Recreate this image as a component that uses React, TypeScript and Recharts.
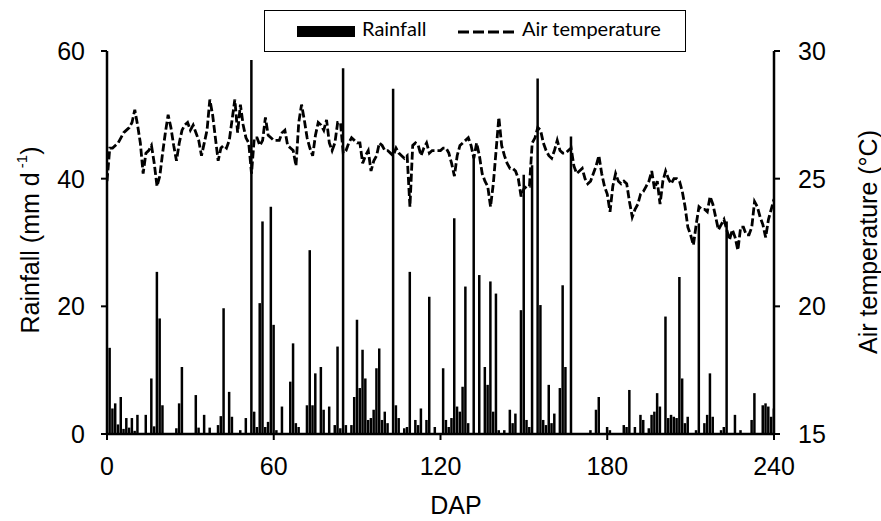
import { ComposedChart, Bar, Line, XAxis, YAxis } from "recharts";

// days after planting, 0..240
const DAP_TICKS = [0, 60, 120, 180, 240];
const RAIN_TICKS = [0, 20, 40, 60];
const TEMP_TICKS = [15, 20, 25, 30];

// daily rainfall (mm d-1), one value per DAP
const RAINFALL = [
  0, 13.5, 4.0, 4.8, 1.5, 5.8, 0.8, 2.5, 1.0, 2.5,
  0.5, 3.0, 0, 0, 3.0, 0, 8.7, 1.2, 25.4, 18.1,
  4.5, 0, 0, 0, 0, 0.9, 4.8, 10.5, 0, 0,
  0, 0, 6.1, 1.0, 0, 3.0, 0, 1.0, 0, 0,
  1.4, 2.8, 19.7, 0, 6.6, 2.7, 0, 0, 0.6, 0,
  2.5, 0, 58.6, 3.5, 1.1, 20.5, 33.3, 1.1, 1.9, 35.6,
  17.1, 0.6, 0, 4.3, 0, 0, 8.2, 14.2, 1.7, 1.1,
  0, 0, 4.5, 28.8, 4.5, 9.5, 0, 10.5, 3.8, 0,
  4.3, 0, 1.4, 13.7, 0.9, 57.3, 1.4, 0, 1.4, 5.8,
  17.9, 7.2, 13.2, 8.7, 2.2, 2.5, 3.8, 10.3, 13.4, 2.2,
  3.5, 1.7, 0, 54.1, 4.5, 2.5, 0, 0.9, 1.1, 25.4,
  0, 2.2, 1.4, 4.0, 0, 2.2, 21.5, 0, 1.1, 0,
  0, 10.3, 2.2, 1.1, 2.5, 33.8, 4.3, 3.5, 7.4, 23.1,
  1.7, 0, 43.7, 0, 24.9, 0, 10.5, 7.7, 23.9, 3.5,
  22.0, 0.6, 0, 0.6, 0, 3.8, 1.7, 3.2, 0, 19.4,
  40.6, 2.2, 1.1, 42.1, 0, 55.7, 20.2, 2.2, 1.4, 7.7,
  1.7, 3.2, 0, 7.2, 23.3, 10.5, 0, 46.6, 0, 0,
  0, 0, 0, 0, 0.6, 0, 3.8, 5.8, 0, 0,
  1.1, 0.6, 0, 0, 0, 0, 1.4, 1.1, 6.9, 0,
  1.1, 0, 3.0, 2.2, 0, 0.9, 3.0, 3.5, 6.4, 4.3,
  0, 18.4, 2.5, 3.0, 2.7, 2.5, 24.6, 8.7, 1.7, 2.7,
  0, 0, 0.6, 33.0, 0, 1.7, 3.0, 9.5, 2.7, 0,
  0, 0.6, 1.1, 33.3, 0, 0, 3.0, 0, 0.6, 0,
  0, 0, 2.2, 6.4, 0, 0, 4.5, 4.8, 4.3, 2.7,
  4.0,
];

// daily mean air temperature (°C)
const AIR_TEMP = [
  24.9, 26.2, 26.2, 26.3, 26.4, 26.6, 26.8, 26.9, 27.0, 27.2,
  27.7, 27.1, 26.4, 25.2, 26.0, 26.1, 26.3, 25.6, 24.7, 25.1,
  26.0, 26.8, 27.5, 27.0, 26.3, 25.7, 26.4, 26.9, 27.1, 27.2,
  26.9, 27.1, 26.8, 26.5, 25.9, 26.4, 26.9, 28.1, 27.5, 26.6,
  25.7, 26.2, 26.3, 26.2, 26.5, 27.3, 28.1, 26.8, 27.9, 27.1,
  26.6, 26.4, 25.2, 26.6, 26.6, 26.3, 26.5, 27.4, 26.7, 26.6,
  26.5, 26.5, 26.5, 26.8, 26.9, 26.3, 26.2, 26.1, 25.5, 27.2,
  27.9, 27.3, 26.6, 26.2, 25.9, 26.7, 27.2, 27.1, 26.9, 27.3,
  26.4, 26.1, 26.4, 27.2, 27.2, 26.0, 26.1, 26.4, 26.6, 26.5,
  26.4, 26.4, 25.6, 25.9, 26.1, 25.3, 25.7, 25.9, 26.4, 26.3,
  26.1, 26.1, 26.0, 25.9, 26.2, 26.0, 25.9, 25.8, 25.9, 23.9,
  26.3, 26.4, 26.3, 25.9, 26.2, 26.4, 26.0, 26.1, 26.1, 26.1,
  26.1, 26.2, 26.2, 26.0, 25.6, 25.1, 25.9, 26.3, 26.4, 26.5,
  26.6, 26.3, 25.8, 26.4, 25.9, 25.2, 24.9, 24.7, 23.9, 24.8,
  26.1, 27.4, 26.3, 25.9, 25.6, 25.4, 25.4, 25.3, 25.0, 24.3,
  24.6, 24.7, 24.7, 26.4, 26.6, 27.0, 26.9, 26.4, 26.1, 25.9,
  25.8, 26.1, 26.5, 26.1, 26.0, 26.0, 26.1, 26.2, 25.5, 25.2,
  25.3, 25.4, 25.0, 24.8, 24.9, 25.2, 25.5, 25.9, 25.2, 24.7,
  24.4, 23.7, 24.7, 25.2, 24.9, 24.8, 24.9, 24.8, 24.1, 23.5,
  23.8, 24.0, 24.4, 24.5, 24.7, 24.9, 25.3, 24.6, 24.9, 24.0,
  24.9, 25.3, 25.0, 24.8, 25.0, 25.0, 24.9, 24.5, 23.9, 23.1,
  22.8, 22.4, 23.2, 23.9, 23.8, 23.8, 23.7, 24.3, 24.0, 23.5,
  23.0, 23.2, 23.4, 23.0, 22.6, 23.0, 22.7, 22.2, 23.1, 23.1,
  22.8, 22.8, 23.1, 24.1, 23.9, 23.5, 23.2, 22.7, 23.4, 23.8,
  24.2,
];

const data = RAINFALL.map((rain, dap) => ({ dap, rain, temp: AIR_TEMP[dap] }));

const FONT = "Liberation Sans";
const LEGEND_FONT = "Lato";
const tickStyle = { fontSize: 25, fill: "#000", fontFamily: FONT };
const axisLine = { stroke: "#000", strokeWidth: 2.5 };
const tickLine = { stroke: "#000", strokeWidth: 2 };

function Titles() {
  return (
    <svg
      width={881}
      height={521}
      style={{ position: "absolute", left: 0, top: 0, pointerEvents: "none" }}
    >
      <text
        transform="translate(30,240) rotate(-90)"
        textAnchor="middle"
        dominantBaseline="central"
        fontSize={25}
        fontFamily={FONT}
      >
        Rainfall (mm d
        <tspan fontSize={15} dy={-9}> -1</tspan>
        <tspan dy={9}>)</tspan>
      </text>
      <text
        transform="translate(868,242) rotate(-90)"
        textAnchor="middle"
        dominantBaseline="central"
        fontSize={25}
        fontFamily={FONT}
      >
        Air temperature (°C)
      </text>
      <text x={456} y={514} textAnchor="middle" fontSize={25} fontFamily={FONT}>
        DAP
      </text>
    </svg>
  );
}

function LegendBox() {
  return (
    <div
      style={{
        position: "absolute",
        left: 264,
        top: 10,
        width: 420,
        height: 40,
        border: "1.5px solid #000",
        background: "#fff",
        fontFamily: LEGEND_FONT,
        fontSize: 20,
        color: "#000",
      }}
    >
      <div style={{ position: "absolute", left: 32, top: 15, width: 58, height: 11, background: "#000" }} />
      <span style={{ position: "absolute", left: 97, top: 5 }}>Rainfall</span>
      <svg style={{ position: "absolute", left: 193, top: 18 }} width={60} height={6}>
        <line x1={0} y1={3} x2={60} y2={3} stroke="#000" strokeWidth={3} strokeDasharray="11 4" />
      </svg>
      <span style={{ position: "absolute", left: 257, top: 5 }}>Air temperature</span>
    </div>
  );
}

export default function App() {
  return (
    <div style={{ position: "absolute", left: 0, top: 0, width: 881, height: 521, background: "#fff" }}>
      <ComposedChart width={881} height={521} data={data} margin={{ top: 51, right: 47, bottom: 27, left: 47 }}>
        <XAxis
          dataKey="dap"
          type="number"
          domain={[0, 240]}
          ticks={DAP_TICKS}
          allowDataOverflow
          height={60}
          axisLine={axisLine}
          tickLine={tickLine}
          tickSize={6}
          tickMargin={17}
          tick={tickStyle}
        />
        <YAxis
          yAxisId="rain"
          orientation="left"
          domain={[0, 60]}
          ticks={RAIN_TICKS}
          width={60}
          axisLine={axisLine}
          tickLine={tickLine}
          tickSize={6}
          tickMargin={16}
          tick={tickStyle}
        />
        <YAxis
          yAxisId="temp"
          orientation="right"
          domain={[15, 30]}
          ticks={TEMP_TICKS}
          width={60}
          axisLine={axisLine}
          tickLine={tickLine}
          tickSize={6}
          tickMargin={18}
          tick={tickStyle}
        />
        <Bar yAxisId="rain" dataKey="rain" fill="#000" barSize={3} isAnimationActive={false} />
        <Line
          yAxisId="temp"
          dataKey="temp"
          type="linear"
          stroke="#000"
          strokeWidth={2.8}
          strokeDasharray="8 3"
          dot={false}
          isAnimationActive={false}
        />
      </ComposedChart>
      <Titles />
      <LegendBox />
    </div>
  );
}
